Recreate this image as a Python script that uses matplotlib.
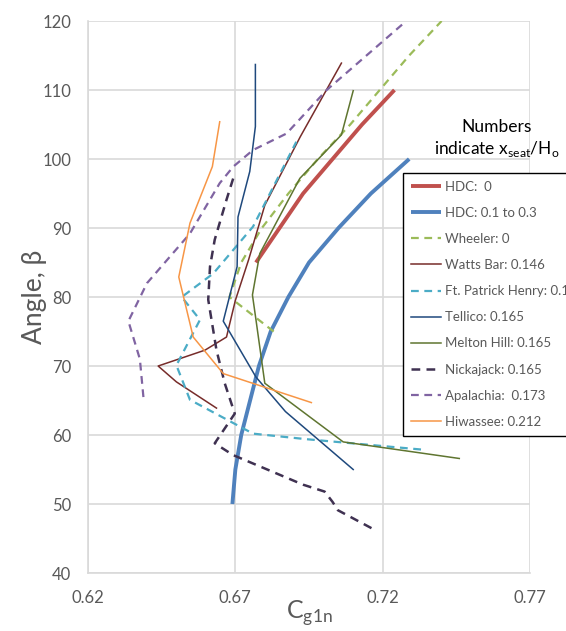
import matplotlib.pyplot as plt

plt.rcParams['font.family'] = ['Lato', 'DejaVu Sans']
plt.rcParams['mathtext.fontset'] = 'custom'
plt.rcParams['mathtext.rm'] = 'Lato'

# each dam: (angle values, Cg1n values)
hdc0_y = [85, 90, 95, 100, 105, 110]
hdc0_x = [0.677, 0.685, 0.693, 0.703, 0.713, 0.724]

hdc1_y = [50, 55, 60, 65, 70, 75, 80, 85, 90, 95, 100]
hdc1_x = [0.669, 0.670, 0.672, 0.675, 0.678, 0.682, 0.688, 0.695, 0.705, 0.716, 0.729]

wheeler_y = [75, 80, 85, 90, 95, 100, 105, 110, 115, 120]
wheeler_x = [0.683, 0.668, 0.672, 0.679, 0.688, 0.698, 0.709, 0.719, 0.729, 0.740]

watts_y = [63.9, 67.7, 70.0, 72.3, 74.2, 79.5, 85.4, 93.3, 103.2, 113.9]
watts_x = [0.6636, 0.650, 0.6438, 0.6597, 0.667, 0.670, 0.6745, 0.680, 0.692, 0.706]

fph_y = [57.9, 59.4, 60.2, 65.1, 70.1, 76.7, 80.0, 83.4, 90.2, 102.5]
fph_x = [0.733, 0.694, 0.676, 0.6546, 0.650, 0.658, 0.6518, 0.6625, 0.676, 0.6907]

tellico_y = [55.0, 63.4, 68.4, 76.5, 84.4, 91.6, 98.2, 104.7, 113.7]
tellico_x = [0.710, 0.687, 0.677, 0.6659, 0.6706, 0.6709, 0.6749, 0.6768, 0.6768]

melton_y = [56.6, 59.0, 67.5, 76.7, 80.3, 86.3, 97.2, 103.5, 109.9]
melton_x = [0.746, 0.7066, 0.680, 0.677, 0.6758, 0.6783, 0.6919, 0.706, 0.710]

nick_y = [46.5, 49.1, 50.3, 51.8, 52.8, 57.1, 58.8, 63.1, 67.5, 72.3, 79.6, 84.4, 88.3, 94.1, 97.9]
nick_x = [0.7162, 0.7048, 0.703, 0.7003, 0.693, 0.6692, 0.663, 0.6698, 0.6664, 0.6636, 0.6608, 0.6614, 0.663, 0.667, 0.6698]

apal_y = [65.5, 71.0, 76.5, 82.0, 89.2, 96.5, 98.9, 101.3, 103.7, 110, 120]
apal_x = [0.6388, 0.6376, 0.6337, 0.640, 0.6546, 0.6647, 0.6693, 0.676, 0.6874, 0.701, 0.728]

hiw_y = [64.7, 68.9, 74.2, 82.9, 90.7, 98.9, 105.4]
hiw_x = [0.6958, 0.6659, 0.6557, 0.6508, 0.6546, 0.6622, 0.6647]

x_ticks = [0.62, 0.67, 0.72, 0.77]
y_ticks = [40, 50, 60, 70, 80, 90, 100, 110, 120]

fig = plt.figure(figsize=(5.66, 6.31), dpi=100)
ax = fig.add_axes([0.1555, 0.0919, 0.7809, 0.8748])

dash = (0, (3.5, 2.5))
ax.plot(hdc0_x, hdc0_y, color='#C0504D', lw=2.8, label='HDC:  0', solid_capstyle='butt')
ax.plot(hdc1_x, hdc1_y, color='#4F81BD', lw=2.8, label='HDC: 0.1 to 0.3', solid_capstyle='butt')
ax.plot(wheeler_x, wheeler_y, color='#9BBB59', lw=1.6, ls=dash, label='Wheeler: 0')
ax.plot(watts_x, watts_y, color='#772C2A', lw=1.1, label='Watts Bar: 0.146')
ax.plot(fph_x, fph_y, color='#4BACC6', lw=1.6, ls=dash, label='Ft. Patrick Henry: 0.152')
ax.plot(tellico_x, tellico_y, color='#1F497D', lw=1.1, label='Tellico: 0.165')
ax.plot(melton_x, melton_y, color='#5F7530', lw=1.1, label='Melton Hill: 0.165')
ax.plot(nick_x, nick_y, color='#3F3151', lw=1.8, ls=dash, label='Nickajack: 0.165')
ax.plot(apal_x, apal_y, color='#8064A2', lw=1.6, ls=dash, label='Apalachia:  0.173')
ax.plot(hiw_x, hiw_y, color='#F79646', lw=1.1, label='Hiwassee: 0.212')

ax.set_xlim(0.62, 0.77)
ax.set_ylim(40, 120)
ax.set_xticks(x_ticks)
ax.set_xticklabels(['%.2f' % v for v in x_ticks])
ax.set_yticks(y_ticks)
ax.grid(True, color='#D9D9D9', lw=1.2)
ax.set_axisbelow(True)
for s in ['top', 'right']:
    ax.spines[s].set_visible(False)
for s in ['left', 'bottom']:
    ax.spines[s].set_color('#D9D9D9')
    ax.spines[s].set_linewidth(1.2)
ax.tick_params(length=0, labelsize=12, labelcolor='#595959', pad=12)

ax.set_xlabel('C$_{\\mathregular{g1n}}$', fontsize=18, color='#595959', labelpad=-5)
ax.set_ylabel('Angle, β', fontsize=19, color='#595959', labelpad=-3)

fig.text(497 / 566, 1 - 139 / 631, 'Numbers\nindicate x$_{\\mathregular{seat}}$/H$_{\\mathregular{o}}$',
         ha='center', va='center', fontsize=12.5, linespacing=1.3)

# legend runs past the right edge, as in the original
leg = ax.legend(loc='upper left', bbox_to_anchor=(0.713, 0.725), fontsize=9.5,
                labelspacing=1.07, handlelength=2.3, handletextpad=0.3,
                borderpad=0.6, fancybox=False, framealpha=1, borderaxespad=0)
leg.get_frame().set_edgecolor('black')
leg.get_frame().set_linewidth(1.0)
for t in leg.get_texts():
    t.set_color('#595959')

fig.savefig('out.png', dpi=100)
